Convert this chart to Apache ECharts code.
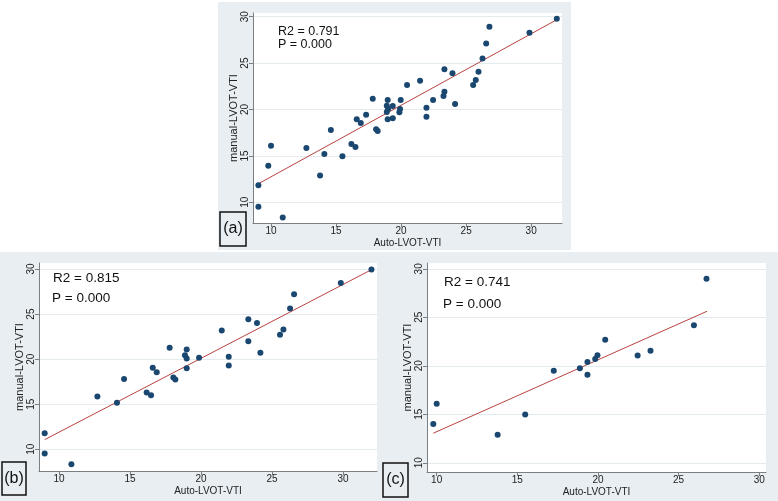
<!DOCTYPE html>
<html>
<head>
<meta charset="utf-8">
<script src="https://cdn.jsdelivr.net/npm/echarts@6/dist/echarts.min.js"></script>
<style>html,body{margin:0;padding:0;background:#fff}#c{width:778px;height:501px}</style>
</head>
<body>
<div id="c"></div>
<script>
// ---- data ----
const autoA = [9.03,9.03,9.79,10.0,10.9,12.72,13.77,14.1,14.6,15.49,16.18,16.49,16.59,16.9,17.31,17.82,18.08,18.2,18.9,18.9,18.97,19.0,18.97,19.36,19.36,19.87,19.92,19.97,20.46,21.46,21.95,21.95,22.46,23.26,23.33,23.33,23.95,24.15,25.54,25.74,25.95,26.26,26.54,26.79,29.87,31.97];
const manualA = [11.83,9.53,13.95,16.1,8.35,15.85,12.9,15.2,17.8,14.95,16.28,15.96,18.94,18.55,19.44,21.17,17.86,17.68,20.41,19.73,21.02,20.05,18.94,20.38,19.05,19.7,20.05,21.02,22.64,23.1,20.2,19.23,21.02,21.45,24.33,21.92,23.9,20.6,22.64,23.18,24.08,25.5,27.1,28.92,28.28,29.78];
const autoB = [8.99,8.99,10.87,12.7,14.08,14.58,16.17,16.48,16.6,16.88,17.79,18.05,18.19,18.87,18.99,18.99,18.99,19.86,21.46,21.95,21.95,23.33,23.33,23.94,24.18,25.56,25.8,26.27,26.55,29.84,32.0];
const manualB = [11.78,9.52,8.33,15.85,15.15,17.81,16.3,16.0,19.04,18.56,21.26,17.96,17.74,20.44,21.07,20.07,19.0,20.15,23.19,20.26,19.3,24.44,22.0,24.0,20.7,22.7,23.3,25.63,27.19,28.44,29.96];
const autoC = [9.79,10.0,13.78,15.49,17.26,18.88,19.35,19.35,19.83,19.97,20.45,22.46,23.26,25.95,26.73];
const manualC = [13.99,16.09,12.88,14.97,19.48,19.75,20.39,19.07,20.69,21.1,22.69,21.07,21.54,24.18,28.98];
const fitAx = [9.03, 32.1],  fitAy = [12.0, 29.78];
const fitBx = [8.99, 32.04], fitBy = [11.07, 29.96];
const fitCx = [9.79, 26.77], fitCy = [13.05, 25.63];
const tickValues = [10, 15, 20, 25, 30];
const r2Labels = ['R2 = 0.791', 'R2 = 0.815', 'R2 = 0.741'];
const pLabels = ['P = 0.000', 'P = 0.000', 'P = 0.000'];
const panelLabels = ['(a)', '(b)', '(c)'];
const xTitle = 'Auto-LVOT-VTI';
const yTitle = 'manual-LVOT-VTI';

// ---- layout ----
const FONT = '"Liberation Sans", Arial, sans-serif';
const panels = [
  {grid:{left:253, top:13, width:309, height:210}, xr:[8.615,32.37], yr:[7.77,30.4],
   bg:[218,2,353,248], box:[220,212,26,34], r2:[278,32,12.5], p:[278,45,12.5], xs:autoA, ys:manualA, fx:fitAx, fy:fitAy},
  {grid:{left:39, top:263, width:338, height:208}, xr:[8.59,32.39], yr:[7.59,30.67],
   bg:[0,252,386,249], box:[2,462,24,33], r2:[53,278,13.5], p:[52,298,13.5], xs:autoB, ys:manualB, fx:fitBx, fy:fitBy},
  {grid:{left:427, top:263, width:339, height:209}, xr:[9.40,30.42], yr:[9.05,30.6],
   bg:[386,252,392,249], box:[383,463,25,34], r2:[444,282,13.5], p:[443,304,13.5], xs:autoC, ys:manualC, fx:fitCx, fy:fitCy}
];

const grid = [], xAxis = [], yAxis = [], series = [], graphic = [];
const axisCol = '#7a7f84';
panels.forEach((pn, i) => {
  grid.push(Object.assign({show:true, backgroundColor:'#ffffff', borderWidth:0, containLabel:false}, pn.grid));
  const common = {
    gridIndex:i, type:'value',
    axisLine:{show:true, onZero:false, lineStyle:{color:axisCol, width:1}},
    axisTick:{show:true, length:4, customValues:tickValues, lineStyle:{color:axisCol}},
    axisLabel:{customValues:tickValues, color:'#222', fontSize:10, fontFamily:FONT, margin:3},
    splitLine:{show:true, lineStyle:{color:'#e4ebef', width:1}},
    nameLocation:'middle',
    nameTextStyle:{color:'#222', fontFamily:FONT}
  };
  xAxis.push(Object.assign({}, common, {min:pn.xr[0], max:pn.xr[1], position:'bottom',
    name:xTitle, nameGap:15, nameTextStyle:{color:'#222', fontFamily:FONT, fontSize:10},
    splitLine:{show:false}}));
  yAxis.push(Object.assign({}, common, {min:pn.yr[0], max:pn.yr[1], position:'left',
    name:yTitle, nameGap:14, nameTextStyle:{color:'#222', fontFamily:FONT, fontSize:11},
    axisLabel:Object.assign({}, common.axisLabel, {rotate:90})}));
  series.push({type:'line', xAxisIndex:i, yAxisIndex:i, data:pn.fx.map((x,k)=>[x, pn.fy[k]]),
    showSymbol:false, symbol:'none', lineStyle:{color:'#b8433f', width:1}, silent:true, z:2});
  series.push({type:'scatter', xAxisIndex:i, yAxisIndex:i, data:pn.xs.map((x,k)=>[x, pn.ys[k]]),
    symbolSize:6, itemStyle:{color:'#1a476f', opacity:1}, z:3});
  graphic.push({type:'rect', z:-100, shape:{x:pn.bg[0], y:pn.bg[1], width:pn.bg[2], height:pn.bg[3]}, style:{fill:'#e8eef2'}});
  graphic.push({type:'rect', z:100, shape:{x:pn.box[0], y:pn.box[1], width:pn.box[2], height:pn.box[3]}, style:{fill:'none', stroke:'#111', lineWidth:1.5}});
  graphic.push({type:'text', z:100, x:pn.box[0]+pn.box[2]/2, y:pn.box[1]+pn.box[3]/2,
    style:{text:panelLabels[i], font:'16px '+FONT, fill:'#111', align:'center', verticalAlign:'middle'}});
  graphic.push({type:'text', z:100, x:pn.r2[0], y:pn.r2[1], style:{text:r2Labels[i], font:pn.r2[2]+'px '+FONT, fill:'#111', verticalAlign:'middle'}});
  graphic.push({type:'text', z:100, x:pn.p[0], y:pn.p[1], style:{text:pLabels[i], font:pn.p[2]+'px '+FONT, fill:'#111', verticalAlign:'middle'}});
});

const chart = echarts.init(document.getElementById('c'), null, {renderer:'canvas'});
chart.setOption({backgroundColor:'#ffffff', animation:false, grid, xAxis, yAxis, series, graphic});
</script>
</body>
</html>
